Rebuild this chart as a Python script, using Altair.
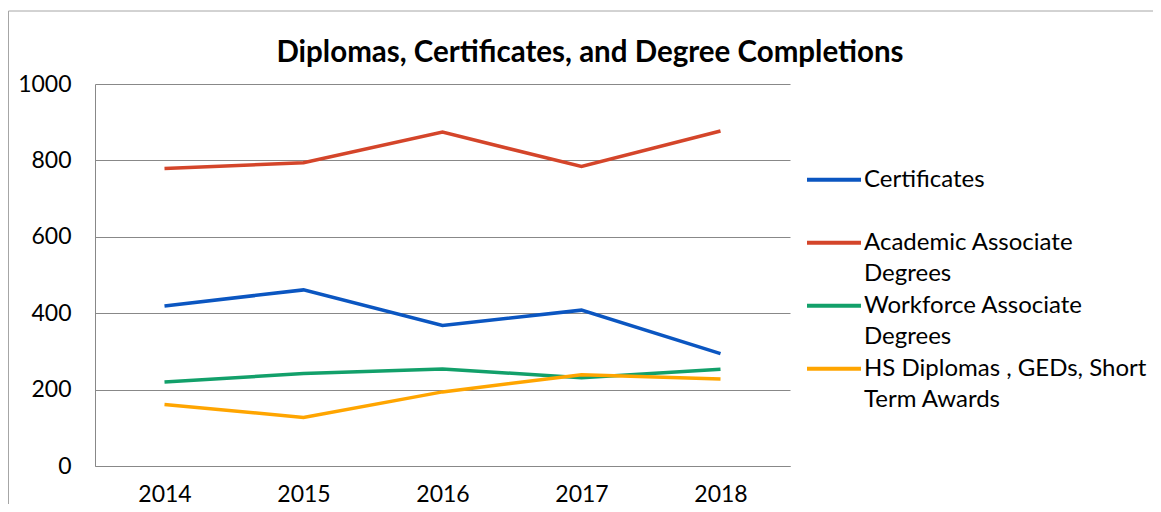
import altair as alt
import pandas as pd

years = ["2014", "2015", "2016", "2017", "2018"]
series = [
    "Certificates",
    "Academic Associate Degrees",
    "Workforce Associate Degrees",
    "HS Diplomas , GEDs, Short Term Awards",
]
label_lines = [
    ["Certificates", ""],
    ["Academic Associate", "Degrees"],
    ["Workforce Associate", "Degrees"],
    ["HS Diplomas , GEDs, Short", "Term Awards"],
]
certificates = [419, 461, 368, 408, 294]
academic = [779, 794, 874, 784, 877]
workforce = [220, 242, 254, 231, 253]
hs_diplomas = [161, 127, 194, 239, 228]
colors = ["#0B56C1", "#D4452A", "#12A06A", "#FFA500"]
title_text = "Diplomas, Certificates, and Degree Completions"

values = [certificates, academic, workforce, hs_diplomas]
rows = []
for s, vals in zip(series, values):
    for y, v in zip(years, vals):
        rows.append({"Year": y, "Series": s, "Value": v})
df = pd.DataFrame(rows)

def js_list(lst):
    return "[" + ",".join("'" + t.replace("'", "\\'") + "'" for t in lst) + "]"

expr = ""
for s, lns in zip(series, label_lines):
    expr += f"datum.label == '{s}' ? {js_list(lns)} : "
expr += "datum.label"

FONT = "Lato"

lines = alt.Chart(df).mark_line(strokeWidth=3.5).encode(
    x=alt.X("Year:O", sort=years,
            scale=alt.Scale(type="point", padding=0.5),
            axis=alt.Axis(title=None, labelAngle=0, domain=True, domainColor="#888888",
                          ticks=False, labelPadding=17, labelFontSize=23,
                          labelFont=FONT, labelColor="#000000", grid=False)),
    y=alt.Y("Value:Q", scale=alt.Scale(domain=[0, 1000], nice=False),
            axis=alt.Axis(title=None, values=[0, 200, 400, 600, 800, 1000], format="d",
                          domain=True, domainColor="#888888", ticks=False,
                          labelPadding=24, labelFontSize=23, labelFont=FONT,
                          labelColor="#000000", grid=True, gridColor="#888888",
                          gridWidth=1)),
    color=alt.Color("Series:N", sort=series,
                    scale=alt.Scale(domain=series, range=colors),
                    legend=alt.Legend(title=None, orient="none", legendX=710, legendY=76,
                                      padding=0, symbolType="M-1,-0.26H1",
                                      symbolSize=2916, symbolStrokeWidth=4,
                                      labelExpr=expr, labelBaseline="alphabetic",
                                      labelFont=FONT, labelFontSize=24,
                                      labelColor="#000000", labelOffset=1,
                                      labelLimit=400, rowPadding=0, clipHeight=53.5)),
)

border = alt.Chart(pd.DataFrame({"k": [0]})).mark_rect(
    fill=None, stroke="#A6A6A6", strokeWidth=1
).encode(
    x=alt.value(-86.5), x2=alt.value(1300), y=alt.value(-73), y2=alt.value(700)
)

title = alt.Chart(pd.DataFrame({"t": [title_text]})).mark_text(
    font=FONT, fontSize=29.5, fontWeight="bold", color="#000000",
    align="center", baseline="alphabetic"
).encode(
    text="t:N", x=alt.value(495), y=alt.value(-22)
)

chart = alt.layer(border, lines, title).properties(
    width=695, height=382,
    autosize=alt.AutoSizeParams(type="none"),
    padding={"left": 87, "top": 76, "right": 363, "bottom": 38},
).configure(
    style={"guide-label": {"lineHeight": 31}},
    view=alt.ViewConfig(strokeWidth=0, strokeOpacity=0),
)

chart.save("out.html", embed_options={"renderer": "svg", "actions": False})
